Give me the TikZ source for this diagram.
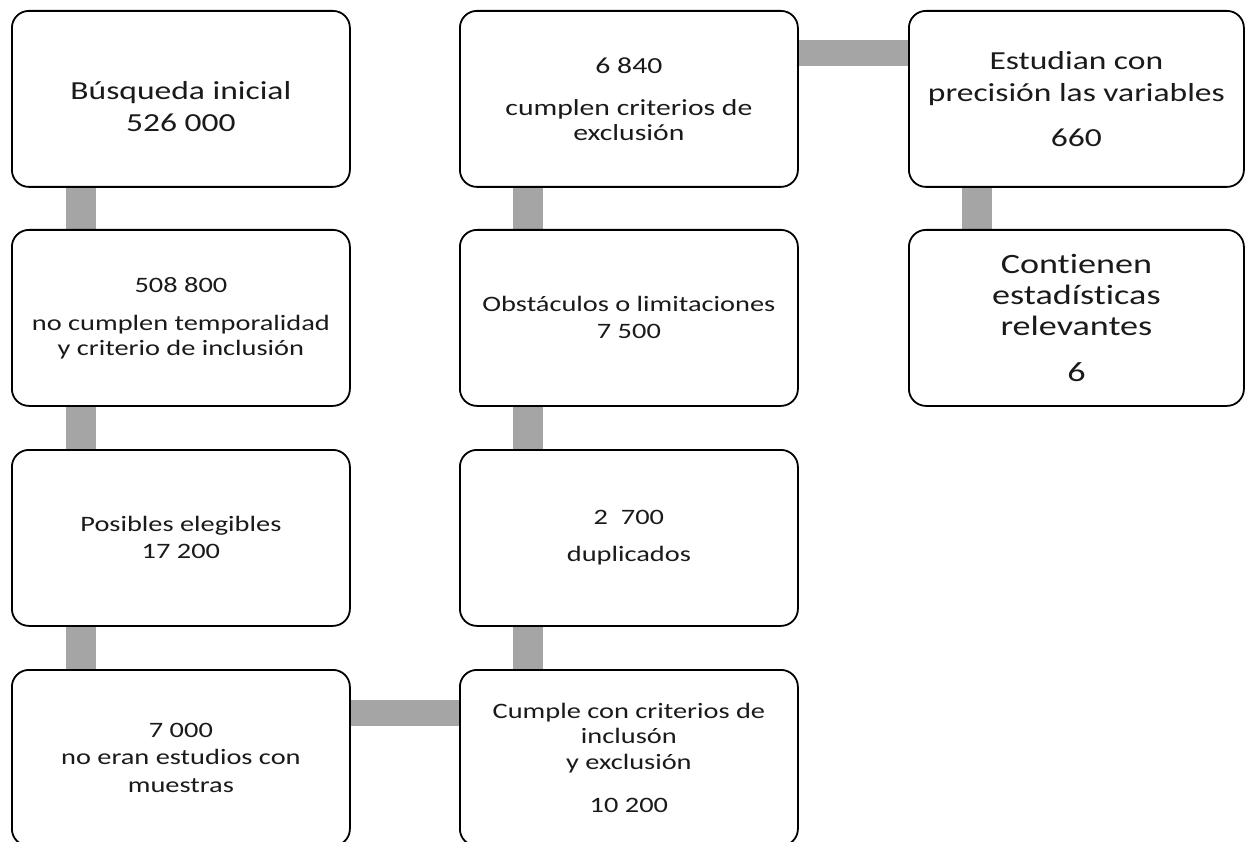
\documentclass[tikz,border=0pt]{standalone}
\usepackage{fontspec}
\setmainfont{Carlito}[FakeStretch=1.29, Ligatures=NoCommon]
\usetikzlibrary{backgrounds}
\definecolor{linkgray}{HTML}{A5A5A5}
\definecolor{txt}{HTML}{1A1A1A}
\begin{document}
\begin{tikzpicture}[x=1pt,y=-1pt,
  box/.style={draw=black, line width=1.8pt, rounded corners=17pt, fill=white,
    minimum width=338pt, minimum height=176pt, align=center, inner sep=0pt,
    anchor=north west, text=txt},
  vlink/.style={draw=linkgray, line width=30pt},
  hlink/.style={draw=linkgray, line width=26pt}]
\useasboundingbox (0,0) rectangle (1245,842);
\clip (0,0) rectangle (1245,842);
% column 1
\node[box, font={\fontsize{26}{32}\selectfont}] (b1) at (11,10) {\rule{0pt}{33pt}Búsqueda inicial\\526 000};
\node[box, font={\fontsize{22}{25}\selectfont}] (b2) at (11,229) {508 800\\[13pt]no cumplen temporalidad\\y criterio de inclusión};
\node[box, font={\fontsize{22}{27}\selectfont}] (b3) at (11,449) {Posibles elegibles\\17 200};
\node[box, font={\fontsize{22}{27.5}\selectfont}] (b4) at (11,669) {7 000\\no eran estudios con\\muestras};
% column 2
\node[box, font={\fontsize{23}{25}\selectfont}] (c1) at (459,10) {6 840\\[17pt]cumplen criterios de\\exclusión};
\node[box, font={\fontsize{22}{27}\selectfont}] (c2) at (459,229) {Obstáculos o limitaciones\\7 500};
\node[box, font={\fontsize{22}{27}\selectfont}] (c3) at (459,449) {2\ \ 700\\[10pt]duplicados};
\node[box, font={\fontsize{22}{25.5}\selectfont}] (c4) at (459,669) {Cumple con criterios de\\inclusón\\y exclusión\\[18pt]10 200};
% column 3
\node[box, minimum width=335pt, font={\fontsize{26}{32}\selectfont}] (d1) at (908,10) {Estudian con\\precisión las variables\\[13pt]660};
\node[box, minimum width=335pt, font={\fontsize{28}{31}\selectfont}] (d2) at (908,229) {Contienen\\estadísticas\\relevantes\\[15pt]6};
\begin{pgfonlayer}{background}
\draw[vlink] ([xshift=70pt]b1.south west) -- ([xshift=70pt]b2.north west);
\draw[vlink] ([xshift=70pt]b2.south west) -- ([xshift=70pt]b3.north west);
\draw[vlink] ([xshift=70pt]b3.south west) -- ([xshift=70pt]b4.north west);
\draw[hlink] ([yshift=-43.5pt]b4.north east) -- ([yshift=-43.5pt]c4.north west);
\draw[vlink] ([xshift=69pt]c4.north west) -- ([xshift=69pt]c3.south west);
\draw[vlink] ([xshift=69pt]c3.north west) -- ([xshift=69pt]c2.south west);
\draw[vlink] ([xshift=69pt]c2.north west) -- ([xshift=69pt]c1.south west);
\draw[hlink] ([yshift=-43pt]c1.north east) -- ([yshift=-43pt]d1.north west);
\draw[vlink] ([xshift=69pt]d1.south west) -- ([xshift=69pt]d2.north west);
\end{pgfonlayer}
\end{tikzpicture}
\end{document}
